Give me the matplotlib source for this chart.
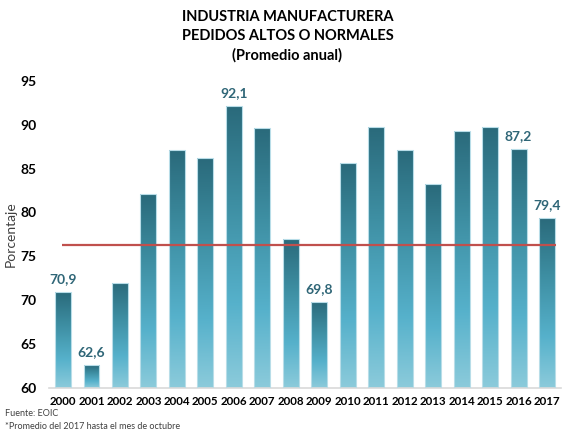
import numpy as np
import matplotlib.pyplot as plt
from matplotlib.colors import LinearSegmentedColormap

years = [str(y) for y in range(2000, 2018)]
values = [70.9, 62.6, 72.0, 82.1, 87.1, 86.2, 92.1, 89.6, 77.0, 69.8,
          85.6, 89.7, 87.1, 83.2, 89.3, 89.7, 87.2, 79.4]
labeled = ['2000', '2001', '2006', '2009', '2016', '2017']
average = 76.3

plt.rcParams['font.family'] = ['Lato', 'DejaVu Sans']

fig = plt.figure(figsize=(5.67, 4.32), dpi=100)
ax = fig.add_axes([0.086, 0.102, 0.904, 0.711])

# gradient from light (bottom) to dark teal (top)
cmap = LinearSegmentedColormap.from_list(
    'teal', [(0.0, '#8ccbdb'), (0.3, '#56b1cb'), (0.65, '#3e8fa3'), (1.0, '#2a6a7b')])
grad = np.linspace(0, 1, 256).reshape(-1, 1)

x = np.arange(len(years))
width = 0.56
bars = ax.bar(x, values, width=width, bottom=0, color='none',
              edgecolor='#b8dde8', linewidth=0.8, zorder=3)
for b, v in zip(bars, values):
    x0 = b.get_x()
    im = ax.imshow(grad, cmap=cmap, origin='lower', aspect='auto',
                   extent=[x0, x0 + width, 60, v], zorder=2)
    im.set_clip_path(b)

for xi, y, v in zip(x, years, values):
    if y in labeled:
        ax.text(xi, v + 0.8, f'{v:.1f}'.replace('.', ','), ha='center', va='bottom',
                fontsize=10, fontweight='bold', color='#2f6677')

ax.hlines(average, -0.05, 17.3, color='#c0504d', linewidth=1.6, zorder=4)

ax.set_xlim(-0.5, 17.5)
ax.set_ylim(60, 95)
ax.set_yticks(range(60, 96, 5))
ax.set_xticks(x)
ax.set_xticklabels(years)
for s in ['top', 'right', 'left']:
    ax.spines[s].set_visible(False)
ax.spines['bottom'].set_color('#d9d9d9')
ax.spines['bottom'].set_linewidth(1.2)
ax.tick_params(axis='both', length=0, labelsize=10)
ax.tick_params(axis='y', pad=9)
ax.tick_params(axis='x', pad=6, labelsize=8.3)
for t in ax.get_xticklabels() + ax.get_yticklabels():
    t.set_fontweight('bold')
ax.set_ylabel('Porcentaje', fontsize=10, color='#404040', labelpad=2)

fig.text(0.507, 0.96, 'INDUSTRIA MANUFACTURERA', ha='center', va='center',
         fontsize=10.5, fontweight='bold')
fig.text(0.507, 0.917, 'PEDIDOS ALTOS O NORMALES', ha='center', va='center',
         fontsize=10.5, fontweight='bold')
fig.text(0.507, 0.873, '(Promedio anual)', ha='center', va='center',
         fontsize=10.5, fontweight='bold')

fig.text(0.008, 0.036, 'Fuente: EOIC', fontsize=6.5, color='#404040')
fig.text(0.008, 0.008, '*Promedio del 2017 hasta el mes de octubre', fontsize=6.5,
         color='#404040')

fig.savefig('out.png', dpi=100)
